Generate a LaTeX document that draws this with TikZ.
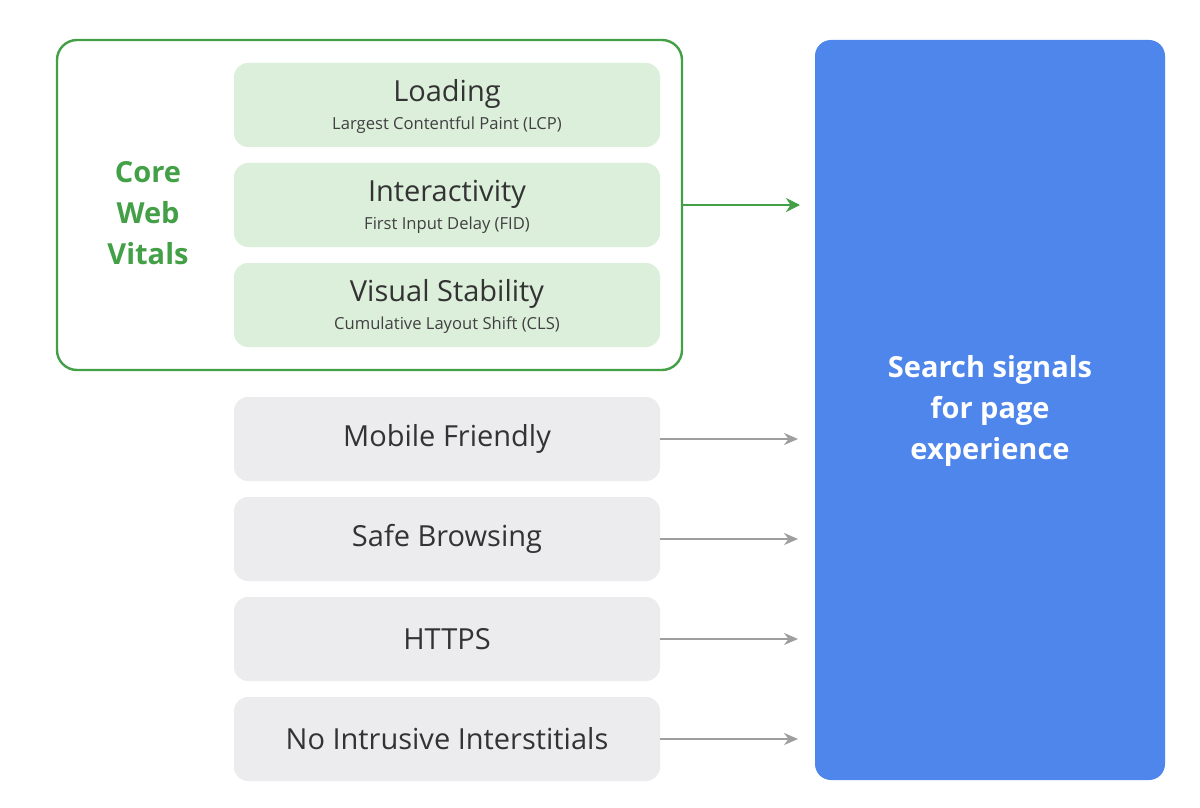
\documentclass[tikz,border=0pt]{standalone}
\usepackage{fontspec}
\setmainfont{Open Sans}
\usetikzlibrary{arrows.meta}
\definecolor{gr}{HTML}{43A047}
\definecolor{grfill}{HTML}{DCEFDB}
\definecolor{gyfill}{HTML}{ECECEE}
\definecolor{gyline}{HTML}{9E9E9E}
\definecolor{bl}{HTML}{4F86EC}
\begin{document}
\begin{tikzpicture}[x=0.5pt,y=-0.5pt,
  gbox/.style={fill=grfill,rounded corners=7pt,draw=none},
  ybox/.style={fill=gyfill,rounded corners=7pt,draw=none},
  ttl/.style={font=\fontsize{14.5}{16}\selectfont,text=black!80},
  sub/.style={font=\fontsize{8.3}{10}\selectfont,text=black!75},
  garr/.style={draw=gr,line width=1.2pt,-{Stealth[length=7pt,width=7pt]}},
  yarr/.style={draw=gyline,line width=1.1pt,-{Stealth[length=7pt,width=6pt]}}]
\useasboundingbox (0,0) rectangle (1200,808);
\fill[white] (0,0) rectangle (1200,808);
\node[draw=gr,line width=1.2pt,rounded corners=10pt,minimum width=312.5pt,minimum height=165pt,inner sep=0] (cwv) at (369.5,205) {};
\foreach \n/\y/\t/\s in {l/105/Loading/Largest Contentful Paint (LCP),i/205/Interactivity/First Input Delay (FID),v/305/Visual Stability/Cumulative Layout Shift (CLS)}{
  \node[gbox,minimum width=213pt,minimum height=42pt] (\n) at (447,\y) {};
  \node[ttl] (\n t) at (447,\y-11) {\t};
  \node[sub] (\n s) at (447,\y+20) {\s};
}
\node[font=\fontsize{14.5}{20.5}\selectfont\bfseries,text=gr,align=center] (core) at (148,213) {Core\\Web\\Vitals};
\node[fill=bl,rounded corners=8pt,minimum width=175pt,minimum height=370pt,inner sep=0] (blue) at (990,410) {};
\node[font=\fontsize{14.5}{20.5}\selectfont\bfseries,text=white,align=center] (bt) at (990,411) {Search signals\\for page\\experience};
\coordinate (ga) at (800,205);
\draw[garr] (cwv.east) -- (ga);
\foreach \n/\y/\t in {m/439/Mobile Friendly,s/539/Safe Browsing,h/639/HTTPS,n/739/No Intrusive Interstitials}{
  \node[ybox,minimum width=213pt,minimum height=42pt,ttl] (\n) at (447,\y) {\t};
  \coordinate (\n a) at (798,\y);
  \draw[yarr] (\n.east) -- (\n a);
}
\end{tikzpicture}
\end{document}
